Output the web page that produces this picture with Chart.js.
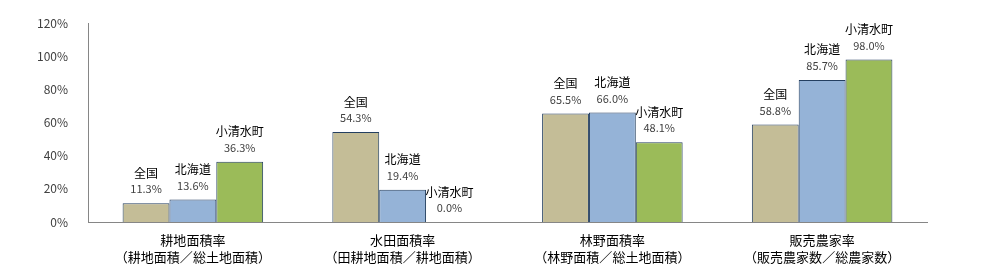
<!DOCTYPE html>
<html>
<head>
<meta charset="utf-8">
<script src="https://cdn.jsdelivr.net/npm/chart.js@4"></script>
<style>
  html, body { margin: 0; padding: 0; background: #fff; }
  #wrap { width: 981px; height: 273px; }
</style>
</head>
<body>
<div id="wrap"><canvas id="rateChart" width="981" height="273"></canvas></div>
<script>
// categories (two-line labels)
const categories = [
    ['耕地面積率', '（耕地面積／総土地面積）'],
    ['水田面積率', '（田耕地面積／耕地面積）'],
    ['林野面積率', '（林野面積／総土地面積）'],
    ['販売農家率', '（販売農家数／総農家数）']
];
const seriesNames = ['全国', '北海道', '小清水町'];
const zenkoku = [11.3, 54.3, 65.5, 58.8];
const hokkaido = [13.6, 19.4, 66.0, 85.7];
const koshimizu = [36.3, 0.0, 48.1, 98.0];
const yTicks = [0, 20, 40, 60, 80, 100, 120];

const fontFamily = '"Noto Sans CJK JP", "Noto Sans", sans-serif';

// draws "name / value%" above each bar
const barLabels = {
    id: 'barLabels',
    afterDatasetsDraw(chart) {
        const ctx = chart.ctx;
        ctx.save();
        ctx.textAlign = 'center';
        ctx.textBaseline = 'middle';
        chart.data.datasets.forEach((ds, i) => {
            const meta = chart.getDatasetMeta(i);
            meta.data.forEach((bar, j) => {
                ctx.fillStyle = '#000';
                ctx.font = '12px ' + fontFamily;
                ctx.fillText(ds.label, bar.x, bar.y - 30);
                ctx.fillStyle = '#404040';
                ctx.font = '11px ' + fontFamily;
                ctx.fillText(ds.data[j].toFixed(1) + '%', bar.x, bar.y - 14);
            });
        });
        ctx.restore();
    }
};

const ctx = document.getElementById('rateChart').getContext('2d');
new Chart(ctx, {
    type: 'bar',
    data: {
        labels: categories,
        datasets: [
            { label: seriesNames[0], data: zenkoku, backgroundColor: '#c4bd97' },
            { label: seriesNames[1], data: hokkaido, backgroundColor: '#95b3d7' },
            { label: seriesNames[2], data: koshimizu, backgroundColor: '#9bbb59' }
        ].map(d => Object.assign(d, { borderColor: '#243f60', borderWidth: 1, borderSkipped: 'bottom' }))
    },
    options: {
        responsive: false,
        animation: false,
        categoryPercentage: 0.67,
        barPercentage: 1.0,
        layout: { padding: { left: 10, right: 54, top: 23, bottom: 0 } },
        plugins: {
            legend: { display: false },
            tooltip: { enabled: false }
        },
        scales: {
            x: {
                grid: { display: false },
                border: { display: true, color: '#868686', width: 1 },
                ticks: {
                    color: '#000',
                    font: { family: fontFamily, size: 13, lineHeight: 1.3 },
                    padding: 2,
                    maxRotation: 0
                },
                afterFit: s => { s.height = 273 - 222; }
            },
            y: {
                min: 0,
                max: 120,
                grid: { display: false },
                border: { display: true, color: '#868686', width: 1 },
                afterBuildTicks: s => { s.ticks = yTicks.map(v => ({ value: v })); },
                ticks: {
                    color: '#404040',
                    font: { family: fontFamily, size: 12 },
                    padding: 12,
                    callback: v => v + '%'
                },
                afterFit: s => { s.width = 88 - 10; }
            }
        }
    },
    plugins: [barLabels]
});
</script>
</body>
</html>
